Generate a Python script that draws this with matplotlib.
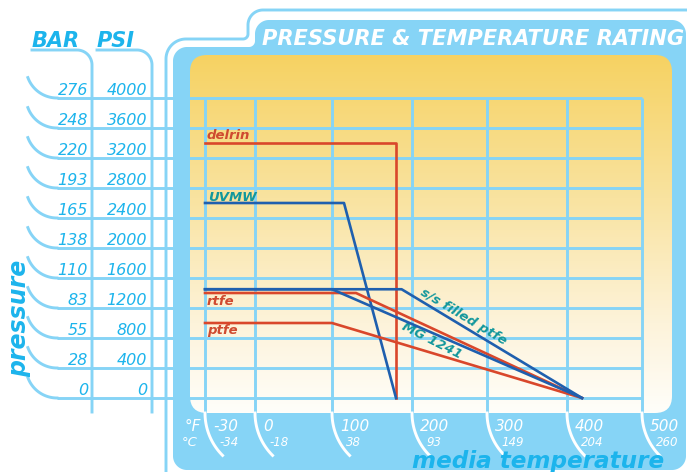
import numpy as np
import matplotlib
matplotlib.use("Agg")
import matplotlib.pyplot as plt
from matplotlib.colors import LinearSegmentedColormap
from matplotlib.patches import FancyBboxPatch, Polygon

plt.rcParams['font.family'] = ['DejaVu Sans']

# axis values
temp_f = [-30, 0, 100, 200, 300, 400, 500]
temp_c = [-34, -18, 38, 93, 149, 204, 260]
bar_ticks = [0, 28, 55, 83, 110, 138, 165, 193, 220, 248, 276]
psi_ticks = [0, 400, 800, 1200, 1600, 2000, 2400, 2800, 3200, 3600, 4000]

# ratings: temperature (°F) vs pressure (psi)
delrin_t = [-30, 180, 180]
delrin_p = [3400, 3400, 0]
uvmw_t = [-30, 115, 180]
uvmw_p = [2600, 2600, 0]
ss_ptfe_t = [-30, 187, 420]
ss_ptfe_p = [1450, 1450, 0]
mg1241_t = [-30, 100, 420]
mg1241_p = [1450, 1450, 0]
rtfe_t = [-30, 130, 420]
rtfe_p = [1400, 1400, 0]
ptfe_t = [-30, 100, 420]
ptfe_p = [1000, 1000, 0]

# colours
FRAME = '#86d4f6'
CYAN = '#1cb4ec'
RED = '#d9472b'
BLUE = '#1f5fae'
TEAL = '#12979c'
LRED = '#cf4a30'

# uneven spacing of the temperature grid (pixel columns)
grid_px = [205, 255, 332, 412, 487, 567, 642]


def fwd(t):
    return np.interp(t, temp_f, grid_px)


def inv(x):
    return np.interp(x, grid_px, temp_f)


def arc(cx, cy, r, a0, a1, n=24):
    a = np.radians(np.linspace(a0, a1, n))
    return np.c_[cx + r * np.cos(a), cy + r * np.sin(a)]


fig = plt.figure(figsize=(6.94, 4.72), dpi=100)
bg = fig.add_axes([0, 0, 1, 1])
bg.axis('off')

ax = fig.add_axes([205 / 694, 74 / 472, 437 / 694, 300 / 472])
ax.set_xscale('function', functions=(fwd, inv))
ax.set_xlim(-30, 500)
ax.set_ylim(0, 4000)
ax.axis('off')
ax.patch.set_visible(False)

bg.set_xlim(0, 694)
bg.set_ylim(472, 0)


def to_px(t, p):
    return bg.transData.inverted().transform(ax.transData.transform((t, p)))


# outer thin outline
outline = np.vstack([[[166, 472]],
                     arc(186, 59, 20, 180, 270),
                     arc(243, 34, 5, 90, 0),
                     arc(263, 25, 15, 180, 270),
                     [[687, 10]]])
bg.plot(outline[:, 0], outline[:, 1], color=FRAME, lw=2.1, zorder=1,
        solid_capstyle='butt')

# blue frame
frame = np.vstack([arc(187, 61, 14, 180, 270),
                   arc(249, 41, 6, 90, 0),
                   arc(269, 34, 14, 180, 270),
                   arc(672, 34, 14, 270, 360),
                   arc(672, 456, 14, 0, 90),
                   arc(187, 456, 14, 90, 180)])
bg.add_patch(Polygon(frame, closed=True, fc=FRAME, ec='none', zorder=1))

# yellow gradient panel
cmap = LinearSegmentedColormap.from_list(
    'panel', [(0, '#f6d262'), (0.4, '#f9e3a0'), (0.75, '#fdf3da'), (1, '#fffefa')])
grad = np.linspace(0, 1, 256).reshape(-1, 1)
im = bg.imshow(grad, cmap=cmap, extent=(190, 672, 413, 55), aspect='auto', zorder=2)
panel = FancyBboxPatch((190, 55), 482, 358, boxstyle="round,pad=0,rounding_size=17",
                       fc='none', ec='none', transform=bg.transData)
bg.add_patch(panel)
im.set_clip_path(panel)

# pressure grid rows with the curled lead-ins on the left
x_right = to_px(500, 0)[0]
for b, p in zip(bar_ticks, psi_ticks):
    y = to_px(-30, p)[1]
    curl = arc(57, y - 31, 31, 90, 160)
    bg.plot(curl[:, 0], curl[:, 1], color=FRAME, lw=2.1, zorder=3)
    bg.plot([57, x_right], [y, y], color=FRAME, lw=2.1, zorder=3, solid_capstyle='butt')
    bg.text(88, y - 3, str(b), color=CYAN, fontsize=11.5, style='italic',
            ha='right', va='baseline', zorder=5)
    bg.text(147, y - 3, str(p), color=CYAN, fontsize=11.5, style='italic',
            ha='right', va='baseline', zorder=5)

# BAR / PSI column heads
for x0, x1, label in [(32, 92, 'BAR'), (97, 152, 'PSI')]:
    head = np.vstack([[[x0, 50]], arc(x1 - 15, 65, 15, 270, 360), [[x1, 412]]])
    bg.plot(head[:, 0], head[:, 1], color=FRAME, lw=2.1, zorder=3)
    bg.text(x0, 47, label, color=CYAN, fontsize=15, weight='bold', style='italic',
            ha='left', va='baseline', zorder=5)

# temperature grid columns with white curls below
y_top = to_px(-30, 4000)[1]
for f, c in zip(temp_f, temp_c):
    x = to_px(f, 0)[0]
    bg.plot([x, x], [y_top, 413], color=FRAME, lw=2.1, zorder=3, solid_capstyle='butt')
    curl = arc(x + 60, 413, 60, 180, 135)
    bg.plot(curl[:, 0], curl[:, 1], color='white', lw=2.1, zorder=3)
    bg.text(x + 8, 431, str(f), color='white', fontsize=11, style='italic',
            ha='left', va='baseline', zorder=5)
    bg.text(x + 14, 445.5, str(c), color='white', fontsize=8.5, style='italic',
            ha='left', va='baseline', zorder=5)

bg.text(201, 431, '°F', color='white', fontsize=11, style='italic',
        ha='right', va='baseline', zorder=5)
bg.text(198, 446, '°C', color='white', fontsize=9.5, style='italic',
        ha='right', va='baseline', zorder=5)

# titles
bg.text(262, 45, 'PRESSURE & TEMPERATURE RATING', color='white', fontsize=15.1,
        weight='bold', style='italic', ha='left', va='baseline', zorder=5)
bg.text(412, 468, 'media temperature', color=CYAN, fontsize=16.7, weight='bold',
        style='italic', ha='left', va='baseline', zorder=5)
bg.text(19, 318, 'pressure', color=CYAN, fontsize=17, weight='bold', style='italic',
        rotation=90, ha='center', va='center', zorder=5)

# rating lines
lw = 1.9
ax.plot(delrin_t, delrin_p, color=RED, lw=lw, clip_on=False, zorder=3)
ax.plot(uvmw_t, uvmw_p, color=BLUE, lw=lw, clip_on=False, zorder=3)
ax.plot(ptfe_t, ptfe_p, color=RED, lw=lw, clip_on=False, zorder=3)
ax.plot(rtfe_t, rtfe_p, color=RED, lw=lw, clip_on=False, zorder=3)
ax.plot(mg1241_t, mg1241_p, color=BLUE, lw=lw, clip_on=False, zorder=3)
ax.plot(ss_ptfe_t, ss_ptfe_p, color=BLUE, lw=lw, clip_on=False, zorder=3)

# line labels
lab = dict(fontsize=9.5, weight='bold', style='italic', zorder=5)
bg.text(207, 139, 'delrin', color=LRED, ha='left', va='baseline', **lab)
bg.text(208, 201, 'UVMW', color=TEAL, ha='left', va='baseline', **lab)
bg.text(207, 305, 'rtfe', color=LRED, ha='left', va='baseline', **lab)
bg.text(207, 334, 'ptfe', color=LRED, ha='left', va='baseline', **lab)
bg.text(463, 317, 's/s filled ptfe', color=TEAL, ha='center', va='center',
        rotation=-31, rotation_mode='anchor', **lab)
bg.text(432, 341, 'MG 1241', color=TEAL, ha='center', va='center',
        rotation=-27, rotation_mode='anchor', **lab)

fig.savefig('out.png', dpi=100)
